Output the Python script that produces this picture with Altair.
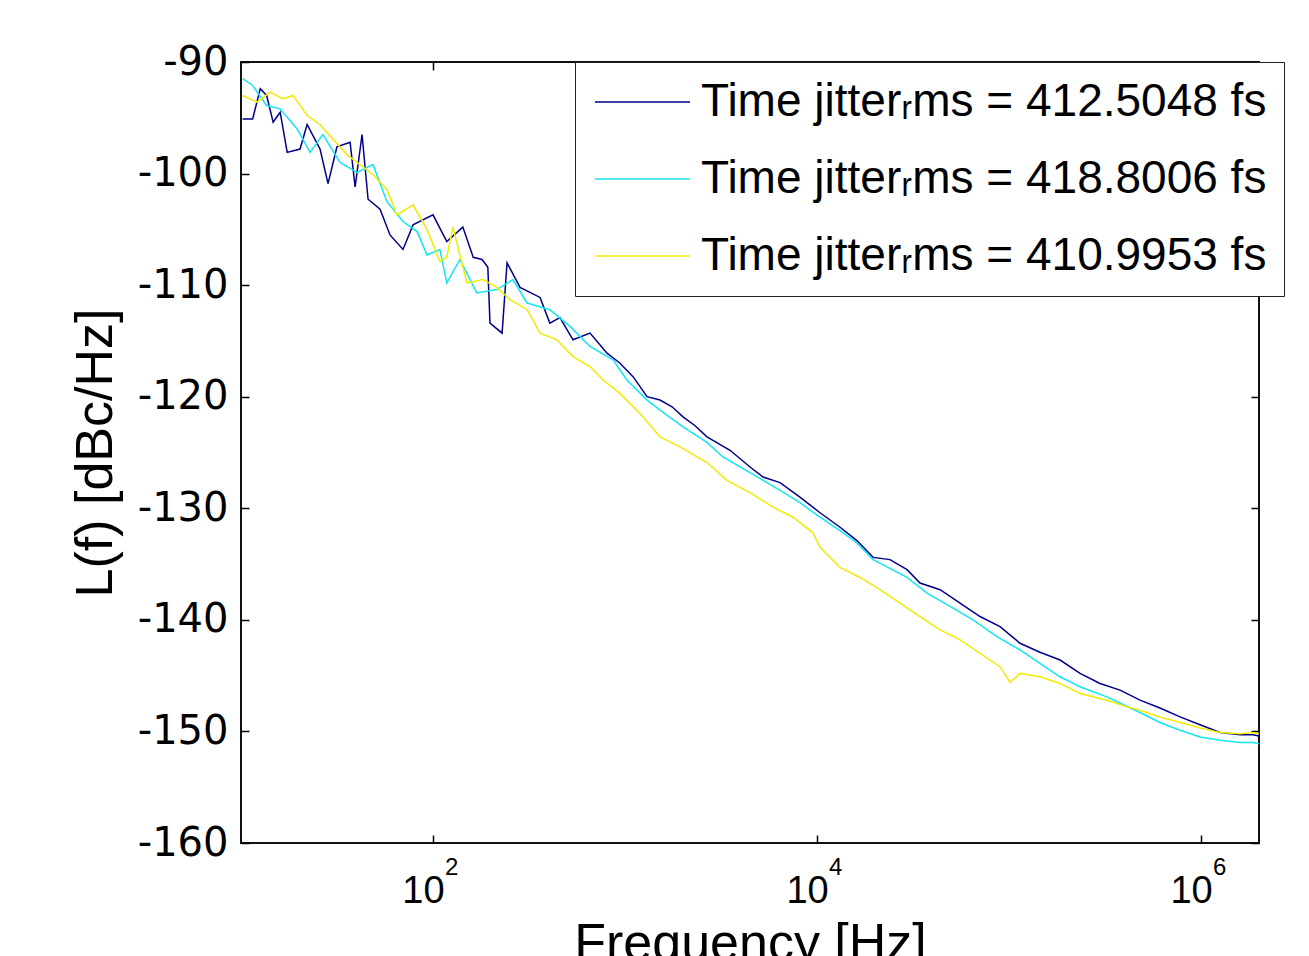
import altair as alt
import pandas as pd

# ---- data (frequency in Hz, phase noise in dBc/Hz) ----
freq_blue = [10.2, 11.5, 12.6, 13.6, 14.7, 16.0, 17.4, 20.3, 22.1, 25.8, 28.4, 31.6, 37.0, 39.3,
             42.7, 45.9, 53.0, 59.7, 69.8, 78.7, 100, 118, 143, 162, 180, 193, 198, 229, 243,
             284, 361, 406, 458, 536, 657, 806, 942, 1101, 1303, 1522, 1758, 2005, 2317, 2673,
             3524, 4478, 5236, 6414, 8147, 10370, 13180, 16140, 19590, 23990, 29440, 34390,
             43750, 55590, 70630, 89770, 114100, 144900, 184400, 234400, 297800, 378500,
             480900, 611100, 778000, 988000, 1256000, 1596000, 1866000, 2004000]
db_blue = [-95.1, -95.1, -92.4, -93.0, -95.4, -94.5, -98.1, -97.8, -95.6, -97.8, -100.9, -97.6,
           -97.2, -101.2, -96.5, -102.3, -103.2, -105.5, -106.8, -104.6, -103.7, -106.1, -104.8,
           -107.5, -107.7, -108.4, -113.4, -114.3, -108.0, -110.2, -111.1, -113.4, -112.9,
           -114.9, -114.3, -116.1, -117.0, -118.2, -120.0, -120.3, -120.9, -121.8, -122.6,
           -123.6, -124.8, -126.3, -127.2, -127.7, -129.0, -130.4, -131.7, -132.9, -134.4,
           -134.6, -135.5, -136.7, -137.3, -138.5, -139.7, -140.6, -142.1, -142.9, -143.6,
           -144.8, -145.7, -146.3, -147.2, -147.9, -148.7, -149.4, -150.1, -150.3, -150.3, -150.4]

freq_cyan = [10.2, 11.5, 13.6, 16.0, 19.6, 22.9, 26.7, 32.8, 40.2, 48.7, 57.5, 69.8, 82.6, 93.1,
             108.6, 118, 138, 169, 215, 261, 309, 406, 517, 657, 866, 1023, 1303, 1522, 2005,
             2673, 3236, 4478, 6414, 8147, 10370, 13180, 16140, 19590, 29440, 37410, 49300,
             64940, 86600, 114100, 144900, 184400, 234400, 323600, 480900, 611100, 778000,
             988000, 1256000, 1596000, 1866000, 2004000]
db_cyan = [-91.5, -92.1, -93.9, -94.2, -96.0, -98.1, -96.5, -99.0, -99.9, -99.2, -102.5, -104.3,
           -105.2, -107.3, -106.8, -109.8, -107.7, -110.7, -110.4, -109.5, -111.6, -112.2,
           -113.7, -115.5, -116.7, -118.5, -120.3, -121.2, -122.7, -124.1, -125.4, -126.8,
           -128.4, -129.5, -130.8, -132.0, -133.1, -134.6, -136.2, -137.6, -138.8, -140.0,
           -141.5, -142.7, -143.9, -145.1, -146.0, -146.9, -148.3, -149.2, -149.9, -150.5,
           -150.8, -151.0, -151.0, -151.1]

freq_yellow = [10.2, 12.1, 14.2, 16.5, 18.7, 22.1, 25.8, 30.1, 35.6, 40.2, 48.7, 57.5, 64.9, 78.7,
               93.1, 108.6, 118, 127, 150, 182, 215, 252, 309, 361, 442, 536, 657, 768, 942,
               1197, 1522, 1932, 2673, 3397, 4478, 5901, 7499, 9527, 10370, 13180, 16750, 21290,
               27060, 34390, 43750, 55590, 70630, 89770, 101200, 114100, 144900, 184400, 234400,
               323600, 412400, 480900, 611100, 778000, 988000, 1256000, 1596000, 1866000, 2004000]
db_yellow = [-93.0, -93.6, -92.7, -93.3, -93.0, -94.8, -95.6, -96.9, -98.3, -99.0, -100.1, -101.4,
             -103.7, -102.8, -105.0, -107.9, -107.5, -104.8, -109.8, -109.5, -110.2, -111.3,
             -112.2, -114.3, -114.9, -116.4, -117.3, -118.5, -119.7, -121.5, -123.6, -124.5,
             -125.9, -127.5, -128.6, -129.9, -130.8, -132.2, -133.5, -135.3, -136.2, -137.3,
             -138.5, -139.7, -140.9, -141.8, -143.0, -144.2, -145.6, -144.8, -145.1, -145.7,
             -146.6, -147.2, -147.8, -148.1, -148.7, -149.2, -149.7, -150.1, -150.2, -150.1, -150.2]

labels = ["Time jitter\u1d63ms = 412.5048 fs",
          "Time jitter\u1d63ms = 418.8006 fs",
          "Time jitter\u1d63ms = 410.9953 fs"]
colors = ["#00008C", "#12E6F0", "#F0EC00"]

x_ticks = [100, 10000, 1000000]
x_exponents = ["2", "4", "6"]
y_ticks = [-160, -150, -140, -130, -120, -110, -100, -90]

rows = []
for lab, fs, ds in zip(labels, [freq_blue, freq_cyan, freq_yellow], [db_blue, db_cyan, db_yellow]):
    for f, d in zip(fs, ds):
        rows.append({"series": lab, "freq": f, "db": d})
df = pd.DataFrame(rows)
sup_df = pd.DataFrame({"freq": x_ticks, "exp": x_exponents})

W, H = 1018, 781
xscale = alt.Scale(type="log", domain=[10, 2004000], nice=False)
yscale = alt.Scale(domain=[-160, -90], nice=False, zero=False)

lines = alt.Chart(df).mark_line(strokeWidth=1.5, clip=True).encode(
    x=alt.X("freq:Q", scale=xscale,
            axis=alt.Axis(orient="bottom", values=x_ticks, labelExpr="'10'", offset=-8,
                          domain=False, grid=False, tickSize=8, tickWidth=1.5, tickColor="black",
                          labelFont="Liberation Sans", labelFontSize=38, labelColor="black",
                          labelPadding=29, labelOffset=-10, labelFlush=False,
                          title="Frequency [Hz]", titleFont="Liberation Sans", titleFontSize=52,
                          titleFontWeight="normal", titleColor="black", titlePadding=8)),
    y=alt.Y("db:Q", scale=yscale,
            axis=alt.Axis(orient="left", values=y_ticks, labelExpr="'' + datum.value", offset=-8,
                          domain=False, grid=False, tickSize=8, tickWidth=1.5, tickColor="black",
                          labelFont="DejaVu Sans", labelFontSize=40, labelColor="black",
                          labelPadding=13, labelFlush=False,
                          title="L(f) [dBc/Hz]", titleFont="Liberation Sans", titleFontSize=52,
                          titleFontWeight="normal", titleColor="black", titlePadding=15)),
    color=alt.Color("series:N", sort=labels,
                    scale=alt.Scale(domain=labels, range=colors),
                    legend=alt.Legend(title=None, orient="none", legendX=334, legendY=0,
                                      direction="vertical", symbolType="M-1,0H3.75",
                                      symbolSize=1600, symbolStrokeWidth=1.5,
                                      labelFont="Liberation Sans, DejaVu Sans", labelFontSize=46,
                                      labelColor="black", labelOffset=63, labelLimit=0,
                                      rowPadding=31, padding=17, strokeColor="#222222",
                                      fillColor="white")),
)

# inward ticks on the top and right edges (box style)
box_ticks = alt.Chart(df).mark_point(opacity=0).encode(
    x=alt.X("freq:Q", scale=xscale,
            axis=alt.Axis(orient="top", values=x_ticks, labels=False, offset=-8, domain=False,
                          grid=False, tickSize=8, tickWidth=1.5, tickColor="black", title=None)),
    y=alt.Y("db:Q", scale=yscale,
            axis=alt.Axis(orient="right", values=y_ticks, labels=False, offset=-8, domain=False,
                          grid=False, tickSize=8, tickWidth=1.5, tickColor="black", title=None)),
)

# exponents of the 10^n tick labels
sups = alt.Chart(sup_df).mark_text(align="left", baseline="top", dx=12,
                                   font="Liberation Sans", fontSize=24, color="black").encode(
    x=alt.X("freq:Q", scale=xscale, axis=None),
    y=alt.value(794),
    text="exp:N",
)

chart = alt.layer(lines, box_ticks, sups).resolve_axis(
    x="independent", y="independent"
).properties(
    width=W, height=H,
    padding={"left": 233, "top": 54, "right": 40, "bottom": 113},
    autosize=alt.AutoSizeParams(type="none"),
    background="white",
).configure_view(stroke="#111111", strokeWidth=2)

chart.save("out.html", embed_options={"renderer": "svg", "actions": False})
